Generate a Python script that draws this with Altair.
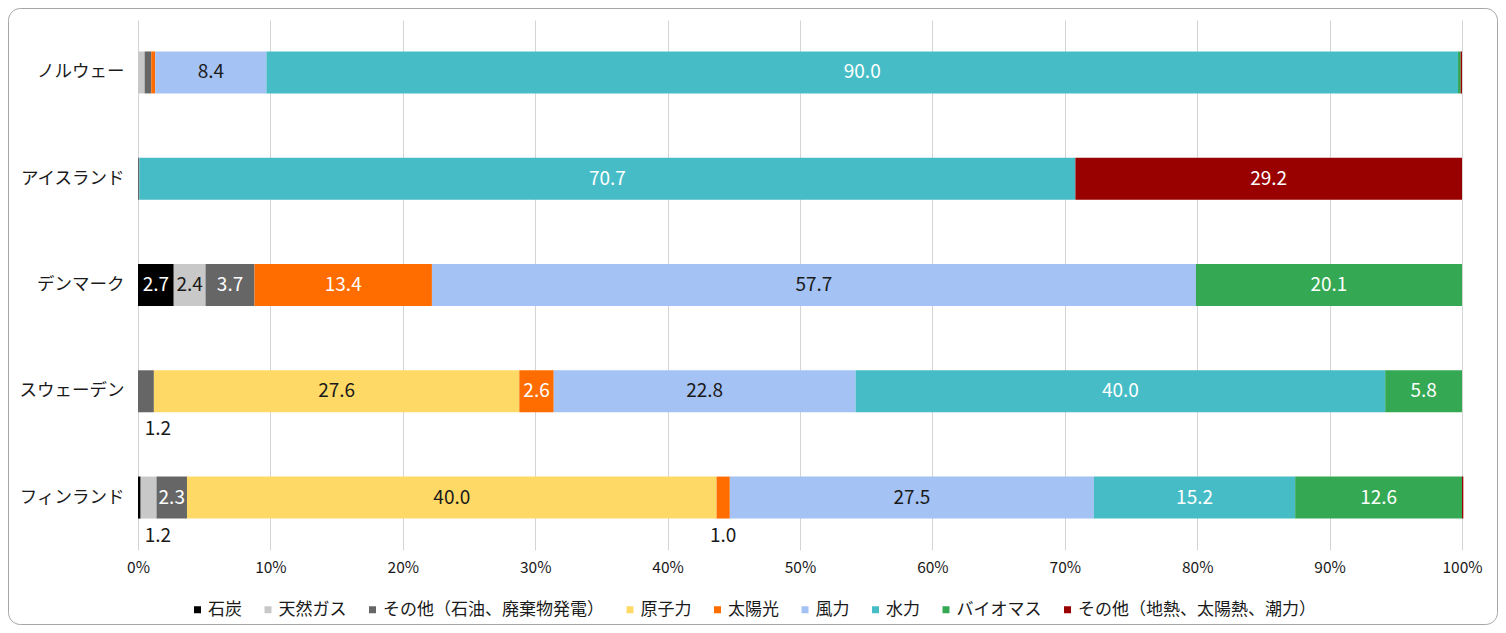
import altair as alt
import pandas as pd

countries = ["ノルウェー", "アイスランド", "デンマーク", "スウェーデン", "フィンランド"]
sources = ["石炭", "天然ガス", "その他（石油、廃棄物発電）", "原子力", "太陽光",
           "風力", "水力", "バイオマス", "その他（地熱、太陽熱、潮力）"]
colors = ["#000000", "#c8c8c8", "#666666", "#ffd966", "#ff6d01",
          "#a4c2f4", "#46bdc6", "#34a853", "#990000"]
label_colors = ["white", "#1a1a1a", "white", "#1a1a1a", "white",
                "#1a1a1a", "white", "white", "white"]

coal     = [0.0, 0.0, 2.7, 0.0, 0.2]
gas      = [0.5, 0.0, 2.4, 0.0, 1.2]
oil_etc  = [0.5, 0.1, 3.7, 1.2, 2.3]
nuclear  = [0.0, 0.0, 0.0, 27.6, 40.0]
solar    = [0.3, 0.0, 13.4, 2.6, 1.0]
wind     = [8.4, 0.0, 57.7, 22.8, 27.5]
hydro    = [90.0, 70.7, 0.0, 40.0, 15.2]
biomass  = [0.2, 0.0, 20.1, 5.8, 12.6]
geo_etc  = [0.1, 29.2, 0.0, 0.0, 0.1]

series = [coal, gas, oil_etc, nuclear, solar, wind, hydro, biomass, geo_etc]

rows = []
for ci, c in enumerate(countries):
    acc = 0.0
    for si, s in enumerate(sources):
        v = series[si][ci]
        if v <= 0:
            continue
        rows.append({
            "country": c, "source": s, "order": si, "value": v,
            "start": acc, "end": acc + v, "mid": acc + v / 2,
            "label": f"{v:.1f}", "tcolor": label_colors[si],
        })
        acc += v
df = pd.DataFrame(rows)
df["below_x"] = df["mid"].clip(lower=1.5)

xscale = alt.Scale(domain=[0, 100], nice=False, zero=True)
yscale = alt.Scale(paddingInner=0.605, paddingOuter=0.296)
ysort = countries

base = alt.Chart(df)

bars = base.mark_bar().encode(
    x=alt.X("start:Q", scale=xscale,
            axis=alt.Axis(title=None, values=list(range(0, 101, 10)),
                          labelExpr="datum.value + '%'", grid=True,
                          gridColor="#d4d4d4", domain=False, ticks=False,
                          labelFlush=False, labelPadding=10, labelFontSize=15.5,
                          labelColor="#1a1a1a")),
    x2="end:Q",
    y=alt.Y("country:N", sort=ysort, scale=yscale,
            axis=alt.Axis(title=None, domain=False, ticks=False,
                          labelPadding=14, labelFontSize=17.5,
                          labelColor="#1a1a1a")),
    color=alt.Color("source:N", scale=alt.Scale(domain=sources, range=colors),
                    legend=alt.Legend(title=None, orient="none", direction="horizontal",
                                      columns=9, legendX=51, legendY=581,
                                      symbolType="square", symbolSize=49,
                                      symbolStrokeWidth=0, labelFontSize=17,
                                      labelLimit=0, labelOffset=2,
                                      columnPadding=17.5, padding=0,
                                      labelColor="#1a1a1a")),
    order=alt.Order("order:Q"),
)

inside = base.transform_filter("datum.value >= 2").mark_text(
    fontSize=19, baseline="middle", align="center").encode(
    x=alt.X("mid:Q", scale=xscale),
    y=alt.Y("country:N", sort=ysort, scale=yscale),
    text="label:N",
    color=alt.Color("tcolor:N", scale=None),
)

below = base.transform_filter("datum.value >= 1 && datum.value < 2").mark_text(
    fontSize=19, baseline="middle", align="center", dy=38, color="#1a1a1a").encode(
    x=alt.X("below_x:Q", scale=xscale),
    y=alt.Y("country:N", sort=ysort, scale=yscale),
    text="label:N",
)

border = alt.Chart(pd.DataFrame({"a": [0]})).mark_rect(
    fillOpacity=0, stroke="#a6a6a6", strokeWidth=1, cornerRadius=12).encode(
    x=alt.value(-129.5), x2=alt.value(1359.5),
    y=alt.value(-11.5), y2=alt.value(604.5),
)

chart = alt.layer(border, bars, inside, below).resolve_scale(color="independent").properties(
    width=1324, height=530,
    autosize=alt.AutoSizeParams(type="none"),
    padding={"left": 130, "top": 12, "right": 36, "bottom": 75},
).configure(font="Noto Sans CJK JP").configure_view(stroke=None)

chart.save("out.html", embed_options={"renderer": "svg", "actions": False})
